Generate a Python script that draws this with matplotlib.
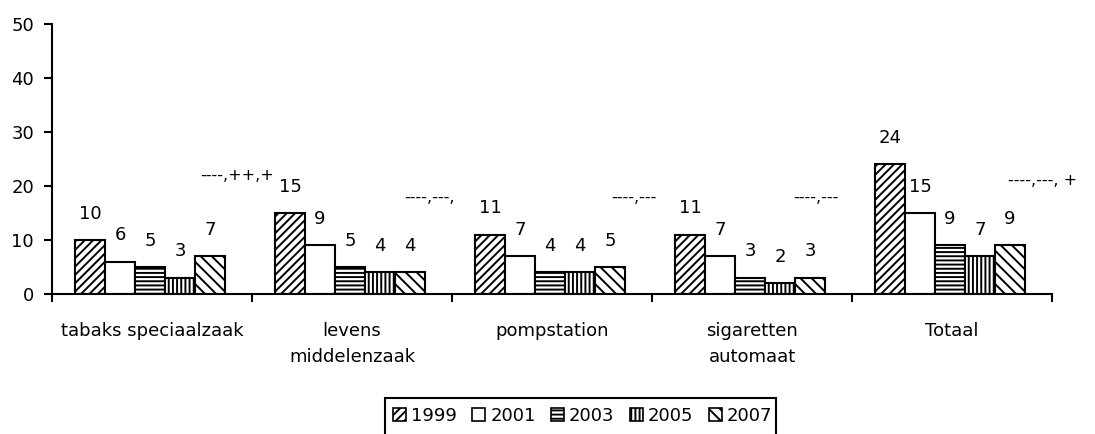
import matplotlib
matplotlib.use("Agg")
import matplotlib.pyplot as plt
from matplotlib.patches import Rectangle, Patch
import numpy as np

categories = ["tabaks speciaalzaak", "levens\nmiddelenzaak", "pompstation", "sigaretten\nautomaat", "Totaal"]
years = ["1999", "2001", "2003", "2005", "2007"]
v1999 = [10, 15, 11, 11, 24]
v2001 = [6, 9, 7, 7, 15]
v2003 = [5, 5, 4, 3, 9]
v2005 = [3, 4, 4, 2, 7]
v2007 = [7, 4, 5, 3, 9]
series = [v1999, v2001, v2003, v2005, v2007]
sig_labels = ["----,++,+", "----,---,", "----,---", "----,---", "----,---, +"]
sig_pos = [(0.74, 22.0), (1.76, 17.8), (2.795, 17.8), (3.705, 17.8), (4.78, 21.0)]
yticks = [0, 10, 20, 30, 40, 50]

hatches = ["////", "", "----", "||||", "\\\\\\"]

plt.rcParams['font.family'] = ['DejaVu Sans']
plt.rcParams['hatch.linewidth'] = 1.4

fig = plt.figure(figsize=(10.95, 4.34), dpi=100)
ax = fig.add_axes([52/1095, 1-294/434, 1000/1095, 270/434])

FS = 13
bw = 0.15
x = np.arange(len(categories)) + 0.49
for j, (yr, vals) in enumerate(zip(years, series)):
    xs = x + (j - 2) * bw
    ax.bar(xs, vals, width=bw, color="white", edgecolor="black",
           linewidth=1.5, hatch=hatches[j], label=yr, zorder=2)
    for xi, v in zip(xs, vals):
        ax.annotate(str(v), (xi, v), xytext=(0, 19), textcoords="offset points",
                    ha="center", va="center", fontsize=FS)

for s, (px, py) in zip(sig_labels, sig_pos):
    ax.text(px, py, s, ha="left", va="center", fontsize=11.5)

ax.set_xlim(0, 5)
ax.set_ylim(0, 50)
ax.set_yticks(yticks)
ax.set_yticklabels([str(t) for t in yticks], fontsize=FS)
ax.set_xticks(np.arange(0, 6))
ax.set_xticklabels([])
ax.set_xticks(np.arange(len(categories)) + 0.5, minor=True)
ax.set_xticklabels(categories, minor=True, fontsize=FS, linespacing=1.6)
ax.tick_params(axis="x", which="minor", length=0, pad=20)
ax.tick_params(axis="x", which="major", direction="out", length=6, width=1.5)
ax.tick_params(axis="y", direction="out", length=6, width=1.5, pad=7)
for sp in ["top", "right"]:
    ax.spines[sp].set_visible(False)
for sp in ["left", "bottom"]:
    ax.spines[sp].set_linewidth(1.5)

handles = [Patch(facecolor="white", edgecolor="black", hatch=h, linewidth=1.2) for h in hatches]
fig.legend(handles, years, loc="center left", bbox_to_anchor=(393/1095, 1-416/434),
           ncol=5, frameon=False, fontsize=FS, handlelength=0.7, handleheight=0.7,
           handletextpad=0.3, columnspacing=0.85, borderaxespad=0, borderpad=0)
fig.patches.append(Rectangle((385/1095, -0.05), (776-385)/1095, 0.05 + 1-398/434,
                             transform=fig.transFigure, fill=False, edgecolor="black",
                             linewidth=1.5))

fig.savefig("out.png", dpi=100)
